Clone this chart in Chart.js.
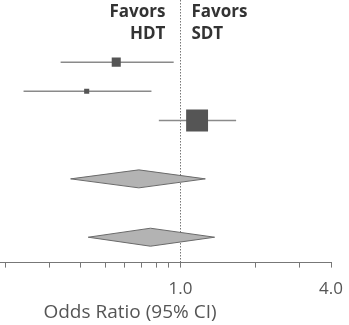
<!DOCTYPE html>
<html>
<head>
<meta charset="utf-8">
<script src="https://cdn.jsdelivr.net/npm/chart.js@4"></script>
<style>
html,body{margin:0;padding:0;background:#fff;}
#wrap{width:349px;height:325px;position:relative;}
</style>
</head>
<body>
<div id="wrap"><canvas id="c" width="349" height="325"></canvas></div>
<script>
// ---- data ----
const studyRows = [2, 3, 4];              // row positions (top to bottom)
const studyOR   = [0.554, 0.422, 1.166];
const studyLo   = [0.332, 0.236, 0.820];
const studyHi   = [0.940, 0.766, 1.670];
const studyWeightRadius = [6.4, 3.6, 15.5];

const pooledRows = [6, 8];
const pooledOR   = [0.682, 0.759];
const pooledLo   = [0.364, 0.428];
const pooledHi   = [1.258, 1.370];

const tickValues = [0.2, 0.3, 0.4, 0.5, 0.6, 0.7, 0.8, 0.9, 1.0, 2.0, 3.0, 4.0];
const labeledTicks = [1.0, 4.0];
const xMin = 0.19, xMax = 4.0;

// ---- datasets ----
const datasets = [];
studyRows.forEach((r, i) => {
  datasets.push({
    type: 'line',
    data: [{x: studyLo[i], y: r}, {x: studyHi[i], y: r}],
    borderColor: '#8a8a8a', borderWidth: 1.5, pointRadius: 0, order: 2
  });
});
datasets.push({
  type: 'scatter',
  data: studyRows.map((r, i) => ({x: studyOR[i], y: r})),
  pointStyle: 'rect',
  pointRadius: studyWeightRadius,
  backgroundColor: '#555555', borderColor: '#555555', borderWidth: 0, order: 1
});

const refLinePlugin = {
  id: 'refLine',
  beforeDatasetsDraw(chart) {
    const {ctx, chartArea, scales} = chart;
    const x = Math.round(scales.x.getPixelForValue(1.0)) + 0.5;
    ctx.save();
    ctx.strokeStyle = '#777';
    ctx.lineWidth = 1;
    ctx.setLineDash([1.5, 1.5]);
    ctx.beginPath();
    ctx.moveTo(x, 0);
    ctx.lineTo(x, chartArea.bottom);
    ctx.stroke();
    ctx.restore();
  },
  afterDatasetsDraw(chart) {
    const {ctx, scales} = chart;
    const xs = scales.x, ys = scales.y;
    ctx.save();
    // diamonds
    pooledRows.forEach((r, i) => {
      const y = ys.getPixelForValue(r);
      const xl = xs.getPixelForValue(pooledLo[i]);
      const xc = xs.getPixelForValue(pooledOR[i]);
      const xh = xs.getPixelForValue(pooledHi[i]);
      const h = 9;
      ctx.beginPath();
      ctx.moveTo(xl, y);
      ctx.lineTo(xc, y - h);
      ctx.lineTo(xh, y);
      ctx.lineTo(xc, y + h);
      ctx.closePath();
      ctx.fillStyle = '#b3b3b3';
      ctx.fill();
      ctx.strokeStyle = '#6a6a6a';
      ctx.lineWidth = 1;
      ctx.stroke();
    });
    // header texts
    const x1 = xs.getPixelForValue(1.0);
    ctx.fillStyle = '#333';
    ctx.font = 'bold 17px "Open Sans"';
    ctx.textBaseline = 'middle';
    ctx.textAlign = 'right';
    ctx.fillText('Favors', x1 - 15, 12);
    ctx.fillText('HDT', x1 - 15, 34);
    ctx.textAlign = 'left';
    ctx.fillText('Favors', x1 + 11, 12);
    ctx.fillText('SDT', x1 + 11, 34);
    // axis title
    ctx.fillStyle = '#555';
    ctx.font = '19px "Open Sans"';
    ctx.textAlign = 'center';
    ctx.fillText('Odds Ratio (95% CI)', 130, 313);
    ctx.restore();
  }
};

new Chart(document.getElementById('c'), {
  data: {datasets},
  options: {
    responsive: false,
    animation: false,
    events: [],
    layout: {autoPadding: false, padding: {left: 0, right: 18, top: 0, bottom: 15}},
    plugins: {legend: {display: false}, tooltip: {enabled: false}},
    scales: {
      x: {
        type: 'logarithmic',
        min: xMin, max: xMax,
        afterBuildTicks(scale) { scale.ticks = tickValues.map(v => ({value: v})); },
        afterFit(scale) { scale.paddingLeft = 0; scale.paddingRight = 0; },
        ticks: {
          autoSkip: false, maxRotation: 0, padding: 11,
          color: '#555', font: {family: 'Open Sans', size: 17},
          callback(v) { return labeledTicks.includes(v) ? v.toFixed(1) : ''; }
        },
        grid: {drawOnChartArea: false, drawTicks: true, tickLength: 5, color: '#777', lineWidth: 1},
        border: {display: true, color: '#777', width: 1}
      },
      y: {
        type: 'linear', display: false, reverse: true,
        min: -0.13, max: 8.87
      }
    }
  },
  plugins: [refLinePlugin]
});
</script>
</body>
</html>
